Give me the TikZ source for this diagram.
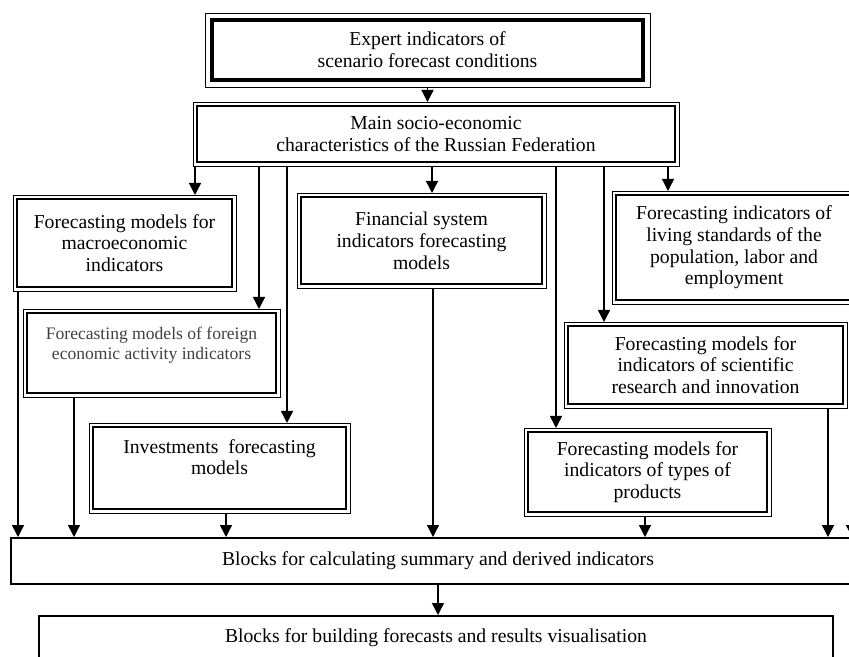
\documentclass[tikz,border=0pt]{standalone}
\usepackage{fontspec}
\setmainfont{Liberation Serif}
\usetikzlibrary{arrows.meta}

\tikzset{
	frame/.style={draw, line width=1.2pt, outer sep=0.1cm, align=center, inner sep=0pt,
		font=\fontsize{14}{15.5}\selectfont},
	headframe/.style={frame, line width=3.1pt, outer sep=0.175cm},
	plainframe/.style={draw, line width=1.4pt, align=center, inner sep=0pt,
		font=\fontsize{14}{15.5}\selectfont},
	arrow/.style={line width=1pt, -{Triangle[length=0.3cm, width=0.3cm]}}
}

\begin{document}
\begin{tikzpicture}
	\useasboundingbox (0, 0) rectangle (21.225, 16.4);
	\clip (0, 0) rectangle (21.225, 16.4);
	\node[headframe, minimum width=10.775cm, minimum height=1.5cm] (expert) at (10.6875, 15.15) {Expert indicators of\\scenario forecast conditions};
	\node[frame, minimum width=11.95cm, minimum height=1.4cm] (main) at (10.9, 13.05) {Main socio-economic\\characteristics of the Russian Federation};
	\node[frame, minimum width=5.375cm, minimum height=2.2cm] (macro) at (3.1125, 10.325) {Forecasting models for\\macroeconomic\\indicators};
	\node[frame, minimum width=6.225cm, minimum height=2cm, font=\fontsize{12.5}{14.2}\selectfont, text=black!75] (foreign) at (3.7875, 7.575) {Forecasting models of foreign\\economic activity indicators\\\mbox{}};
	\node[frame, minimum width=6.025cm, minimum height=2.175cm] (finance) at (10.5375, 10.3875) {Financial system\\indicators forecasting\\models};
	\node[frame, minimum width=5.9cm, minimum height=2.625cm] (living) at (18.35, 10.2125) {Forecasting indicators of\\living standards of the\\population, labor and\\employment};
	\node[frame, minimum width=6.875cm, minimum height=1.95cm] (science) at (17.6375, 7.275) {Forecasting models for\\indicators of scientific\\research and innovation};
	\node[frame, minimum width=6.325cm, minimum height=2.05cm] (invest) at (5.4875, 4.7) {Investments~ forecasting\\models\\\mbox{}};
	\node[frame, minimum width=5.975cm, minimum height=2cm] (types) at (16.1875, 4.6) {Forecasting models for\\indicators of types of\\products};
	\node[plainframe, minimum width=21.35cm, minimum height=1.15cm] (calc) at (10.95, 2.375) {Blocks for calculating summary and derived indicators};
	\node[plainframe, minimum width=19.85cm, minimum height=1.1cm] (build) at (10.9, 0.45) {Blocks for building forecasts and results visualisation};
	% thin outer lines of the framed blocks
	\foreach \n in {expert, main, macro, foreign, finance, living, science, invest, types} {
		\draw[line width=0.6pt] (\n.north west) rectangle (\n.south east);
	}
	\draw[arrow] (expert.south) -- (expert.south |- main.north);
	\foreach \x/\n in {4.875/macro, 6.475/foreign, 7.175/invest, 10.8/finance, 13.9/types, 15.1/science, 16.7/living} {
		\draw[arrow] (main.south -| \x, 0) -- (\n.north -| \x, 0);
	}
	\foreach \x/\n in {0.45/macro, 1.85/foreign, 5.65/invest, 10.825/finance, 16.125/types, 20.7/science, 21.3/living} {
		\draw[arrow] (\n.south -| \x, 0) -- (calc.north -| \x, 0);
	}
	\draw[arrow] (calc.south) -- (calc.south |- build.north);
\end{tikzpicture}
\end{document}
